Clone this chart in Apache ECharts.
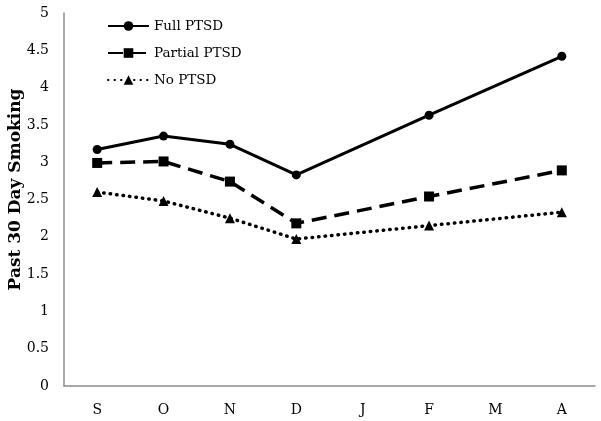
<!DOCTYPE html>
<html>
<head>
<meta charset="utf-8">
<script src="https://cdn.jsdelivr.net/npm/echarts@6/dist/echarts.min.js"></script>
<style>html,body{margin:0;padding:0;background:#fff;}#c{width:601px;height:421px;}</style>
</head>
<body>
<div id="c"></div>
<script>
var categories = ['S', 'O', 'N', 'D', 'J', 'F', 'M', 'A'];
var fullPTSD = [3.17, 3.35, 3.24, 2.83, null, 3.63, null, 4.42];
var partialPTSD = [2.99, 3.01, 2.74, 2.18, null, 2.54, null, 2.89];
var noPTSD = [2.60, 2.48, 2.25, 1.97, null, 2.15, null, 2.33];
var seriesNames = ['Full PTSD', 'Partial PTSD', 'No PTSD'];
var yTitle = 'Past 30 Day Smoking';

var font = 'DejaVu Serif';
var chart = echarts.init(document.getElementById('c'), null, {renderer: 'canvas'});
chart.setOption({
  animation: false,
  backgroundColor: '#fff',
  grid: {left: 64, right: 6, top: 13, bottom: 35, containLabel: false, outerBoundsMode: 'none'},
  legend: {
    orient: 'vertical', left: 102, top: 14,
    itemWidth: 41, itemHeight: 12, itemGap: 13,
    textStyle: {fontFamily: font, fontSize: 13.5, color: '#000'},
    data: seriesNames
  },
  xAxis: {
    type: 'category', data: categories, boundaryGap: true,
    axisLine: {lineStyle: {color: '#8c8c8c', width: 1.5}},
    axisTick: {show: false},
    axisLabel: {fontFamily: font, fontSize: 14, color: '#000', margin: 17}
  },
  yAxis: {
    type: 'value', min: 0, max: 5, interval: 0.5,
    name: yTitle, nameLocation: 'middle', nameGap: 40, nameMoveOverlap: false,
    nameTextStyle: {fontFamily: font, fontSize: 17, fontWeight: 'bold', color: '#000', padding: [0, 0, 0, 20]},
    axisLine: {show: true, lineStyle: {color: '#8c8c8c', width: 1.5}},
    axisTick: {show: false},
    splitLine: {show: false},
    axisLabel: {fontFamily: font, fontSize: 14, color: '#000', margin: 15}
  },
  series: [
    {name: seriesNames[0], type: 'line', data: fullPTSD, connectNulls: true,
     symbol: 'circle', symbolSize: 9, itemStyle: {color: '#000'},
     lineStyle: {color: '#000', width: 3}},
    {name: seriesNames[1], type: 'line', data: partialPTSD, connectNulls: true,
     symbol: 'rect', symbolSize: 10, itemStyle: {color: '#000'},
     lineStyle: {color: '#000', width: 3.5, type: [15, 8]}},
    {name: seriesNames[2], type: 'line', data: noPTSD, connectNulls: true,
     symbol: 'triangle', symbolSize: 10, itemStyle: {color: '#000'},
     lineStyle: {color: '#000', width: 3.5, type: [0.5, 6], cap: 'round'}}
  ]
});
</script>
</body>
</html>
